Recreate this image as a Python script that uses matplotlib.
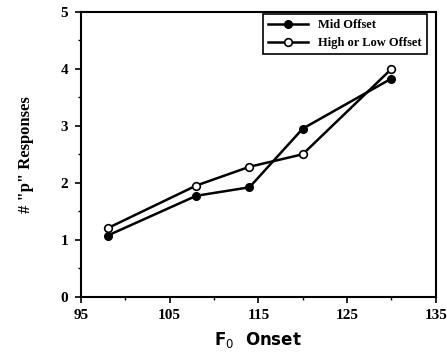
import matplotlib
matplotlib.use("Agg")
import matplotlib.pyplot as plt
from matplotlib.ticker import MultipleLocator

# data
onset = [98, 108, 114, 120, 130]
mid_offset = [1.07, 1.77, 1.92, 2.95, 3.83]
high_low_offset = [1.2, 1.95, 2.28, 2.5, 4.0]

fig = plt.figure(figsize=(4.47, 3.53), dpi=100)
ax = fig.add_axes([0.181, 0.160, 0.794, 0.806])

ax.plot(onset, mid_offset, color='black', lw=1.8, marker='o', ms=5.5,
        mfc='black', mec='black', label='Mid Offset')
ax.plot(onset, high_low_offset, color='black', lw=1.8, marker='o', ms=5.5,
        mfc='white', mec='black', mew=1.2, label='High or Low Offset')

ax.set_xlim(95, 135)
ax.set_ylim(0, 5)
ax.set_xticks([95, 105, 115, 125, 135])
ax.set_yticks([0, 1, 2, 3, 4, 5])
ax.xaxis.set_minor_locator(MultipleLocator(5))
ax.yaxis.set_minor_locator(MultipleLocator(0.5))
ax.tick_params(which='major', direction='out', length=4, width=1.2, labelsize=11, pad=5)
ax.tick_params(which='minor', direction='out', length=2, width=1)
for lab in ax.get_xticklabels() + ax.get_yticklabels():
    lab.set_family('Liberation Serif')
    lab.set_weight('bold')
for s in ax.spines.values():
    s.set_linewidth(1.5)

ax.set_xlabel('F$_0$  Onset', fontsize=12, fontweight='bold', labelpad=6)
ax.set_ylabel('# "p" Responses', fontsize=12, fontweight='bold',
              family='Liberation Serif', labelpad=19)

leg = ax.legend(loc='upper right', handlelength=3.2,
                fancybox=False, framealpha=1, edgecolor='black',
                borderaxespad=0.15, bbox_to_anchor=(0.98, 1.0),
                prop={'family': 'Liberation Serif', 'weight': 'bold', 'size': 9})
leg.get_frame().set_linewidth(1.2)

fig.savefig('out.png', dpi=100)
